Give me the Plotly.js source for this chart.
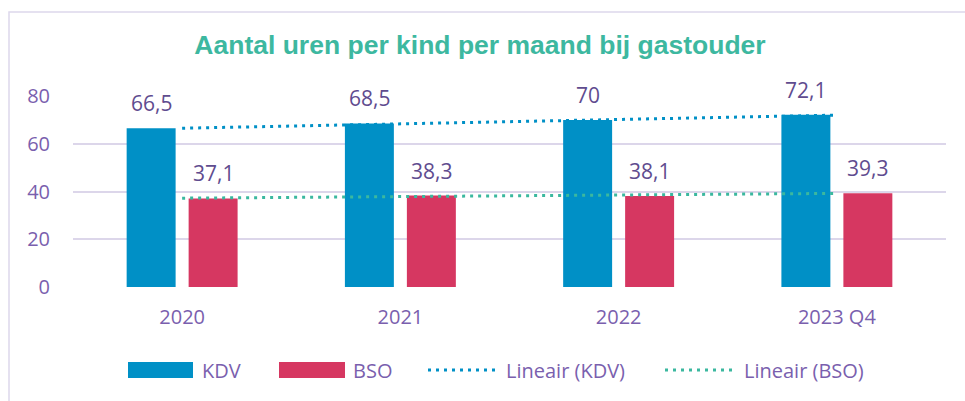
<!DOCTYPE html>
<html><head><meta charset="utf-8">
<script src="https://cdn.plot.ly/plotly-3.0.1.min.js"></script>
<style>html,body{margin:0;padding:0;background:#fff}#c{width:965px;height:401px}</style>
</head><body><div id="c"></div>
<script>
const categories = ['2020', '2021', '2022', '2023 Q4'];
const kdv = [66.5, 68.5, 70, 72.1];
const bso = [37.1, 38.3, 38.1, 39.3];
const trendX = ['2020', '2023 Q4'];
const trendKDV = [66.5, 72.0];
const trendBSO = [37.2, 39.2];
const yTicks = [0, 20, 40, 60, 80];

const BLUE = '#0090C6', RED = '#D63761', TEAL = '#3BB89F', PURPLE = '#7A5FAE', LABEL = '#5F4C8F', GRID = '#DCD6EA';
const FONT = '"Open Sans", Lato, sans-serif';

const L = 73, R = 946, T = 96, B = 287;
const px = v => (v - L) / (R - L);
const py = v => (B - v) / (B - T);

const fmt = v => String(v).replace('.', ',');

const traces = [
  {type:'bar', x:categories, y:kdv, name:'KDV', marker:{color:BLUE}, hoverinfo:'skip'},
  {type:'bar', x:categories, y:bso, name:'BSO', marker:{color:RED}, hoverinfo:'skip'},
  {type:'scatter', mode:'lines', x:trendX, y:trendKDV, name:'Lineair (KDV)', line:{color:BLUE, width:3, dash:'3px,5px'}, hoverinfo:'skip'},
  {type:'scatter', mode:'lines', x:trendX, y:trendBSO, name:'Lineair (BSO)', line:{color:TEAL, width:3, dash:'3px,5px'}, hoverinfo:'skip'}
];

const annotations = [];
categories.forEach((c, i) => {
  annotations.push({x:i, y:kdv[i], xref:'x', yref:'y', text:fmt(kdv[i]), showarrow:false, xshift:-31, yshift:25, yanchor:'middle', font:{family:FONT, size:21, color:LABEL}});
  annotations.push({x:i, y:bso[i], xref:'x', yref:'y', text:fmt(bso[i]), showarrow:false, xshift:31, yshift:25, yanchor:'middle', font:{family:FONT, size:21, color:LABEL}});
});

const shapes = [
  {type:'rect', xref:'paper', yref:'paper', x0:px(9), x1:px(975), y0:py(12), y1:py(410), line:{color:'#DDD8EC', width:1.5}, fillcolor:'rgba(0,0,0,0)', layer:'below'}
];

const legendItems = [
  {kind:'bar', color:BLUE, x0:128, x1:193, tx:200, text:'KDV'},
  {kind:'bar', color:RED, x0:279, x1:345, tx:351, text:'BSO'},
  {kind:'line', color:BLUE, x0:428, x1:497, tx:504, text:'Lineair (KDV)'},
  {kind:'line', color:TEAL, x0:665, x1:735, tx:742, text:'Lineair (BSO)'}
];
const LY = 370;
legendItems.forEach(it => {
  if (it.kind === 'bar') {
    shapes.push({type:'rect', xref:'paper', yref:'paper', x0:px(it.x0), x1:px(it.x1), y0:py(LY+8), y1:py(LY-8), fillcolor:it.color, line:{width:0}});
  } else {
    shapes.push({type:'line', xref:'paper', yref:'paper', x0:px(it.x0), x1:px(it.x1), y0:py(LY), y1:py(LY), line:{color:it.color, width:3, dash:'3px,5px'}});
  }
  annotations.push({xref:'paper', yref:'paper', x:px(it.tx), y:py(LY), xanchor:'left', yanchor:'middle', text:it.text, showarrow:false, font:{family:FONT, size:20, color:PURPLE}});
});

const layout = {
  width:965, height:401,
  margin:{l:L, r:965-R, t:T, b:401-B, pad:0},
  paper_bgcolor:'#fff', plot_bgcolor:'#fff',
  title:{text:'<b>Aantal uren per kind per maand bij gastouder</b>', xref:'container', yref:'container', x:480/965, y:1-45/401, xanchor:'center', yanchor:'middle', font:{family:'"Liberation Sans Narrow", "Liberation Sans", Arial, sans-serif', size:26.5, color:'#3DB8A0'}},
  barmode:'group', bargap:0.432, bargroupgap:0.21,
  showlegend:false,
  xaxis:{type:'category', categoryorder:'array', categoryarray:categories, range:[-0.5, 3.5], autorange:false, showgrid:false, zeroline:false, showline:false, ticks:'', tickfont:{family:FONT, size:20, color:PURPLE}, ticklabelstandoff:16, fixedrange:true},
  yaxis:{range:[0,80], autorange:false, tickvals:yTicks, ticktext:yTicks.map(String), showgrid:true, gridcolor:GRID, gridwidth:2, zeroline:false, showline:false, ticks:'', tickfont:{family:FONT, size:20, color:PURPLE}, ticklabelstandoff:22, fixedrange:true},
  annotations, shapes
};

Plotly.newPlot('c', traces, layout, {staticPlot:true, displayModeBar:false});
</script></body></html>
